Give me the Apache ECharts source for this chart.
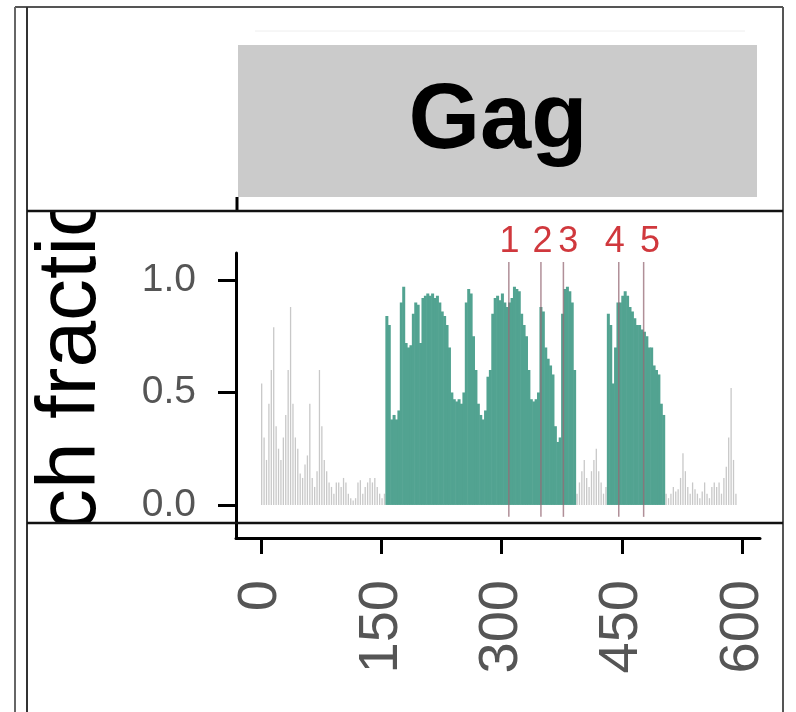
<!DOCTYPE html>
<html>
<head>
<meta charset="utf-8">
<script src="https://cdn.jsdelivr.net/npm/echarts@6/dist/echarts.min.js"></script>
<style>
html, body { margin: 0; padding: 0; background: #fff; }
#chart { width: 796px; height: 712px; }
</style>
</head>
<body>
<div id="chart"></div>
<script>
// alignment positions start at 1, one value every 3 positions
var startPos = 1, stepPos = 3;
var matchFraction = [
    0.54, 0.30, 0.20, 0.45, 0.60, 0.79, 0.35, 0.25, 0.20, 0.30,
    0.40, 0.60, 0.88, 0.45, 0.30, 0.25, 0.14, 0.12, 0.18, 0.22,
    0.45, 0.12, 0.08, 0.15, 0.60, 0.35, 0.20, 0.15, 0.10, 0.08,
    0.05, 0.10, 0.10, 0.08, 0.12, 0.10, 0.05, 0.03, 0.02, 0.03,
    0.10, 0.11, 0.05, 0.08, 0.10, 0.12, 0.10, 0.12, 0.08, 0.05,
    0.03, 0.05, 0.84, 0.80, 0.38, 0.40, 0.38, 0.42, 0.90, 0.97,
    0.72, 0.70, 0.71, 0.85, 0.90, 0.89, 0.72, 0.92, 0.93, 0.94,
    0.93, 0.94, 0.92, 0.93, 0.90, 0.86, 0.84, 0.80, 0.70, 0.50,
    0.47, 0.46, 0.47, 0.45, 0.50, 0.90, 0.96, 0.94, 0.75, 0.60,
    0.45, 0.40, 0.38, 0.42, 0.57, 0.60, 0.85, 0.92, 0.93, 0.91,
    0.94, 0.90, 0.88, 0.90, 0.92, 0.97, 0.96, 0.95, 0.85, 0.80,
    0.75, 0.60, 0.47, 0.46, 0.47, 0.50, 0.88, 0.86, 0.70, 0.65,
    0.62, 0.58, 0.35, 0.28, 0.30, 0.85, 0.96, 0.97, 0.95, 0.90,
    0.60, 0.05, 0.10, 0.15, 0.20, 0.12, 0.08, 0.15, 0.20, 0.25,
    0.15, 0.10, 0.05, 0.08, 0.85, 0.80, 0.54, 0.70, 0.90, 0.90,
    0.93, 0.95, 0.93, 0.88, 0.86, 0.83, 0.80, 0.80, 0.78, 0.77,
    0.75, 0.70, 0.70, 0.62, 0.60, 0.58, 0.45, 0.40, 0.05, 0.03,
    0.05, 0.08, 0.06, 0.07, 0.12, 0.23, 0.15, 0.08, 0.05, 0.10,
    0.07, 0.05, 0.03, 0.06, 0.10, 0.05, 0.03, 0.08, 0.10, 0.08,
    0.10, 0.05, 0.12, 0.17, 0.30, 0.52, 0.20, 0.05, 0.00, 0.00
];
// stretches drawn in teal
var tealRanges = [[156, 392], [432, 503]];
// numbered sites
var markerLabels = ['1', '2', '3', '4', '5'];
var markerPos = [309, 349, 377, 446, 477];
var labelPos = [310, 351, 383, 441, 485];
var xTicks = [0, 150, 300, 450, 600];
var yTicks = [0, 0.5, 1];
var facetTitle = 'Gag';
var yTitle = 'Match fraction';

var FONT = '"Liberation Sans", Arial, sans-serif';

function inTeal(p) {
    for (var k = 0; k < tealRanges.length; k++) {
        if (p >= tealRanges[k][0] && p <= tealRanges[k][1]) return true;
    }
    return false;
}

var tealData = [], greyData = [];
matchFraction.forEach(function (v, i) {
    var p = startPos + i * stepPos;
    if (inTeal(p)) tealData.push([p, v]);
    else greyData.push([p, v]);
});

function barRender(color, full) {
    return function (params, api) {
        var x = api.value(0);
        var top = api.coord([x, api.value(1)]);
        var base = api.coord([x, 0]);
        var w = full ? api.size([stepPos, 0])[0] + 0.6 : 1.3;
        return {
            type: 'rect',
            shape: { x: top[0] - w / 2, y: top[1], width: w, height: base[1] - top[1] },
            style: { fill: color }
        };
    };
}

var myChart = echarts.init(document.getElementById('chart'));

var option = {
    backgroundColor: '#fff',
    animation: false,
    grid: {
        left: 236, top: 253, width: 524, height: 285,
        containLabel: false, outerBoundsMode: 'none'
    },
    xAxis: {
        type: 'value', min: -31, max: 622,
        splitLine: { show: false },
        axisLine: { onZero: false, lineStyle: { color: '#000', width: 3 } },
        axisTick: { customValues: xTicks, length: 16, lineStyle: { color: '#000', width: 3 } },
        axisLabel: {
            customValues: xTicks, rotate: 90, margin: 42,
            fontSize: 56, fontFamily: FONT, color: '#555'
        }
    },
    yAxis: {
        type: 'value', min: -0.147, max: 1.12,
        splitLine: { show: false },
        axisLine: { show: true, onZero: false, lineStyle: { color: '#000', width: 3 } },
        axisTick: { show: true, customValues: yTicks, length: 18, lineStyle: { color: '#000', width: 3 } },
        axisLabel: {
            customValues: yTicks, margin: 40,
            fontSize: 39, fontFamily: FONT, color: '#555',
            formatter: function (v) { return v.toFixed(1); }
        }
    },
    series: [
        {
            type: 'custom', name: 'other', data: greyData,
            renderItem: barRender('#c8c8c8', false)
        },
        {
            type: 'custom', name: 'selected', data: tealData,
            renderItem: barRender('#52a391', true)
        },
        {
            type: 'custom', name: 'sites', clip: false,
            data: markerPos.map(function (p, i) { return [p, labelPos[i]]; }),
            renderItem: function (params, api) {
                var a = api.coord([api.value(0), 1.08]);
                var b = api.coord([api.value(0), -0.053]);
                var t = api.coord([api.value(1), 1.17]);
                return {
                    type: 'group',
                    children: [
                        {
                            type: 'line',
                            shape: { x1: a[0], y1: a[1], x2: b[0], y2: b[1] },
                            style: { stroke: 'rgba(150,105,118,0.75)', lineWidth: 1.5 }
                        },
                        {
                            type: 'text',
                            x: t[0], y: t[1],
                            style: {
                                text: markerLabels[params.dataIndex],
                                fill: '#d0383d', font: '36px ' + FONT,
                                textAlign: 'center', textVerticalAlign: 'middle'
                            }
                        }
                    ]
                };
            }
        }
    ],
    graphic: [
        // y title, clipped by the white boxes below
        {
            type: 'text', z: 10, x: 114, y: 671, rotation: Math.PI / 2,
            style: { text: yTitle, font: '84px ' + FONT, fill: '#000', textAlign: 'left', textVerticalAlign: 'bottom' }
        },
        { type: 'rect', z: 50, shape: { x: 28, y: 8, width: 207, height: 202 }, style: { fill: '#fff' } },
        { type: 'rect', z: 50, shape: { x: 28, y: 524, width: 200, height: 190 }, style: { fill: '#fff' } },
        // facet strip
        { type: 'line', z: 20, shape: { x1: 255, y1: 31, x2: 745, y2: 31 }, style: { stroke: '#eeeeee', lineWidth: 1 } },
        { type: 'rect', z: 60, shape: { x: 238, y: 45, width: 519, height: 152 }, style: { fill: '#cbcbcb' } },
        {
            type: 'text', z: 61, x: 498, y: 123,
            style: { text: facetTitle, font: 'bold 92px ' + FONT, fill: '#000', textAlign: 'center', textVerticalAlign: 'middle' }
        },
        { type: 'line', z: 70, shape: { x1: 237, y1: 197, x2: 237, y2: 211 }, style: { stroke: '#000', lineWidth: 3 } },
        // frame
        { type: 'line', z: 100, shape: { x1: 15, y1: 7, x2: 783, y2: 7 }, style: { stroke: '#555', lineWidth: 2 } },
        { type: 'line', z: 100, shape: { x1: 15, y1: 7, x2: 15, y2: 712 }, style: { stroke: '#666', lineWidth: 2 } },
        { type: 'line', z: 100, shape: { x1: 27, y1: 7, x2: 27, y2: 712 }, style: { stroke: '#333', lineWidth: 2 } },
        { type: 'line', z: 100, shape: { x1: 783, y1: 7, x2: 783, y2: 712 }, style: { stroke: '#555', lineWidth: 2 } },
        { type: 'line', z: 100, shape: { x1: 27, y1: 211, x2: 783, y2: 211 }, style: { stroke: '#111', lineWidth: 2.5 } },
        { type: 'line', z: 100, shape: { x1: 27, y1: 523, x2: 783, y2: 523 }, style: { stroke: '#111', lineWidth: 2.5 } }
    ]
};

myChart.setOption(option);
</script>
</body>
</html>
